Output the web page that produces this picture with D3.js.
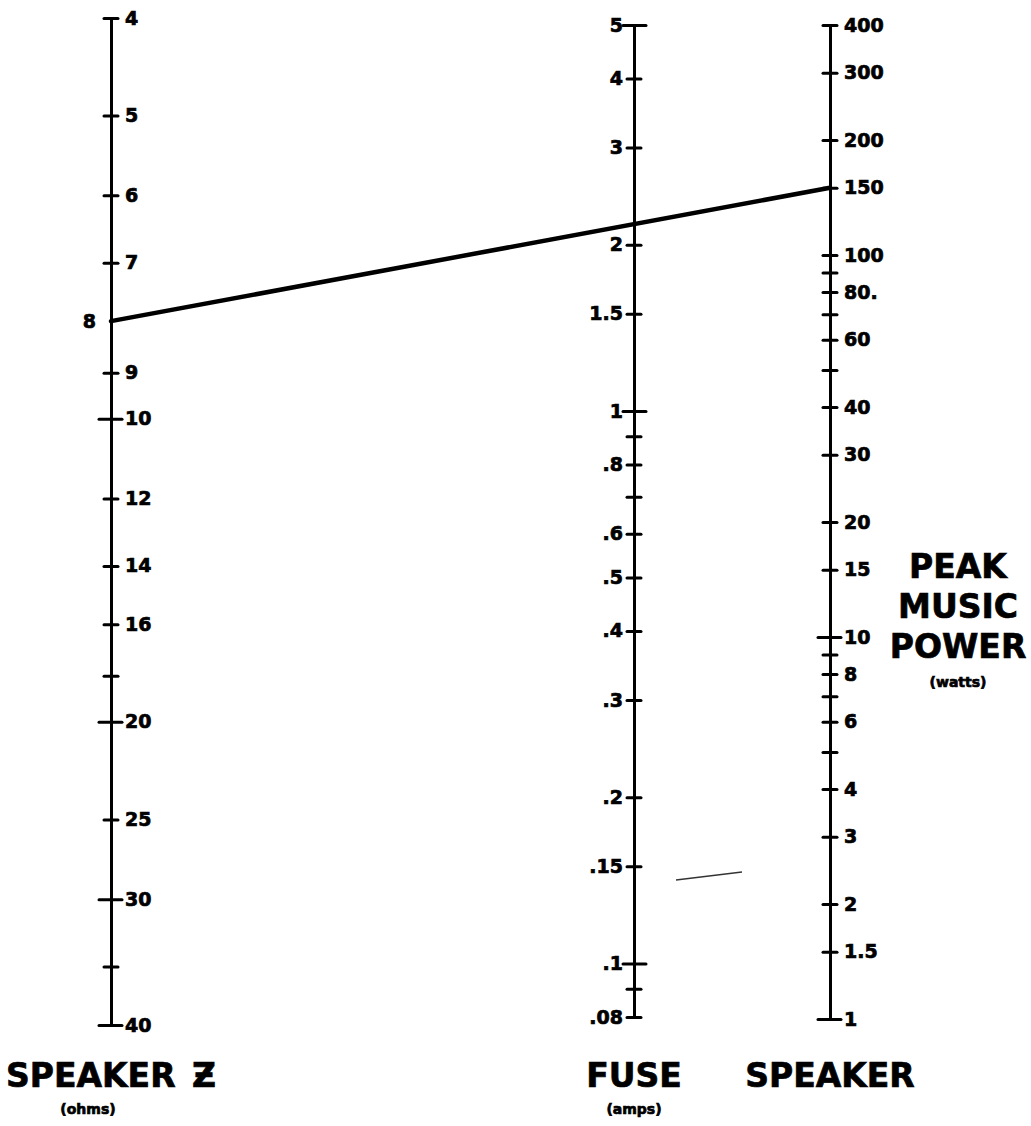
<!DOCTYPE html>
<html>
<head>
<meta charset="utf-8">
<script src="https://cdn.jsdelivr.net/npm/d3@7"></script>
<style>
  body { margin: 0; background: #fff; }
  text { font-family: "DejaVu Sans", sans-serif; font-weight: bold; fill: #000; stroke: #000; stroke-width: 0.7; }
</style>
</head>
<body>
<div id="chart"></div>
<script>
// speaker impedance (ohms), left scale
var ohmTicks = [4, 5, 6, 7, 9, 10, 12, 14, 16, 18, 20, 25, 30, 35, 40];
var ohmLabels = ["4", "5", "6", "7", "9", "10", "12", "14", "16", "20", "25", "30", "40"];
var ohmLongTicks = [10, 20, 30, 40];

// fuse (amps), middle scale
var ampTicks = [5, 4, 3, 2, 1.5, 1, 0.9, 0.8, 0.7, 0.6, 0.5, 0.4, 0.3, 0.2, 0.15, 0.1, 0.09, 0.08];
var ampLabels = ["5", "4", "3", "2", "1.5", "1", ".8", ".6", ".5", ".4", ".3", ".2", ".15", ".1", ".08"];
var ampLongTicks = [5, 1, 0.1];

// peak music power (watts), right scale
var wattTicks = [400, 300, 200, 150, 100, 90, 80, 70, 60, 50, 40, 30, 20, 15, 10, 9, 8, 7, 6, 5, 4, 3, 2, 1.5, 1];
var wattLabels = ["400", "300", "200", "150", "100", "80.", "60", "40", "30", "20", "15", "10", "8", "6", "4", "3", "2", "1.5", "1"];
var wattLongTicks = [10, 1];

// worked example drawn across the nomograph
var exampleOhms = 8,
    exampleWatts = 150;

var width = 1031,
    height = 1126;

var xOhm = 111,
    xAmp = 634,
    xWatt = 830;

var ohm = d3.scaleLog().domain([4, 40]).range([18, 1025]);
var amp = d3.scaleLog().domain([5, 0.08]).range([25, 1017]);
var watt = d3.scaleLog().domain([400, 1]).range([25, 1019]);

var svg = d3.select("#chart")
    .append("svg")
    .attr("width", width)
    .attr("height", height);

function labelFor(labels) {
    return function(d) {
        var l = labels.find(s => +s === d);
        return l === undefined ? "" : l;
    };
}

function drawScale(scale, x, ticks, labels, longTicks, side) {
    var axis = (side === "right" ? d3.axisRight(scale) : d3.axisLeft(scale))
        .tickValues(ticks)
        .tickSize(0)
        .tickSizeOuter(0)
        .tickPadding(side === "right" ? 14 : 11)
        .tickFormat(labelFor(labels));

    var g = svg.append("g")
        .attr("transform", "translate(" + x + ",0)")
        .call(axis)
        .attr("font-family", null)
        .attr("font-size", 19);

    g.select(".domain")
        .attr("stroke", "#000")
        .attr("stroke-width", 3);

    var dir = side === "right" ? 1 : -1;
    g.selectAll(".tick line")
        .attr("stroke", "#000")
        .attr("stroke-width", 3)
        .attr("stroke-linecap", "round")
        .attr("x1", d => longTicks.indexOf(d) >= 0 ? 11 * dir : -7 * dir)
        .attr("x2", d => longTicks.indexOf(d) >= 0 ? -12 * dir : 7 * dir);

    return g;
}

drawScale(ohm, xOhm, ohmTicks, ohmLabels, ohmLongTicks, "right");
drawScale(amp, xAmp, ampTicks, ampLabels, ampLongTicks, "left");
drawScale(watt, xWatt, wattTicks, wattLabels, wattLongTicks, "right");

// the 8 ohm value sits on the left of its scale
svg.append("text")
    .attr("x", xOhm - 15)
    .attr("y", ohm(exampleOhms))
    .attr("dy", "0.35em")
    .attr("text-anchor", "end")
    .attr("font-size", 19)
    .text(exampleOhms);

svg.append("path")
    .datum([[xOhm, ohm(exampleOhms)], [xWatt, watt(exampleWatts)]])
    .attr("d", d3.line())
    .attr("fill", "none")
    .attr("stroke", "#000")
    .attr("stroke-width", 4.5)
    .attr("stroke-linecap", "round");

// scan mark
svg.append("path")
    .attr("d", "M676,880 L742,872")
    .attr("stroke", "#333")
    .attr("stroke-width", 1.5)
    .attr("fill", "none");

// titles
svg.append("text").attr("x", 6).attr("y", 1087).attr("font-size", 33).text("SPEAKER");
svg.append("text").attr("x", 192).attr("y", 1087).attr("font-size", 33).text("Ƶ");
svg.append("text").attr("x", 88).attr("y", 1114).attr("font-size", 14).attr("text-anchor", "middle").text("(ohms)");

svg.append("text").attr("x", xAmp).attr("y", 1087).attr("font-size", 33).attr("text-anchor", "middle").text("FUSE");
svg.append("text").attr("x", xAmp).attr("y", 1114).attr("font-size", 14).attr("text-anchor", "middle").text("(amps)");

svg.append("text").attr("x", xWatt).attr("y", 1087).attr("font-size", 33).attr("text-anchor", "middle").text("SPEAKER");

var powerTitle = ["PEAK", "MUSIC", "POWER"];
svg.selectAll(".ptitle")
    .data(powerTitle)
    .enter().append("text")
    .attr("class", "ptitle")
    .attr("x", 958)
    .attr("y", (d, i) => 578 + i * 40)
    .attr("font-size", 33)
    .attr("text-anchor", "middle")
    .text(d => d);
svg.append("text").attr("x", 958).attr("y", 687).attr("font-size", 14).attr("text-anchor", "middle").text("(watts)");
</script>
</body>
</html>
